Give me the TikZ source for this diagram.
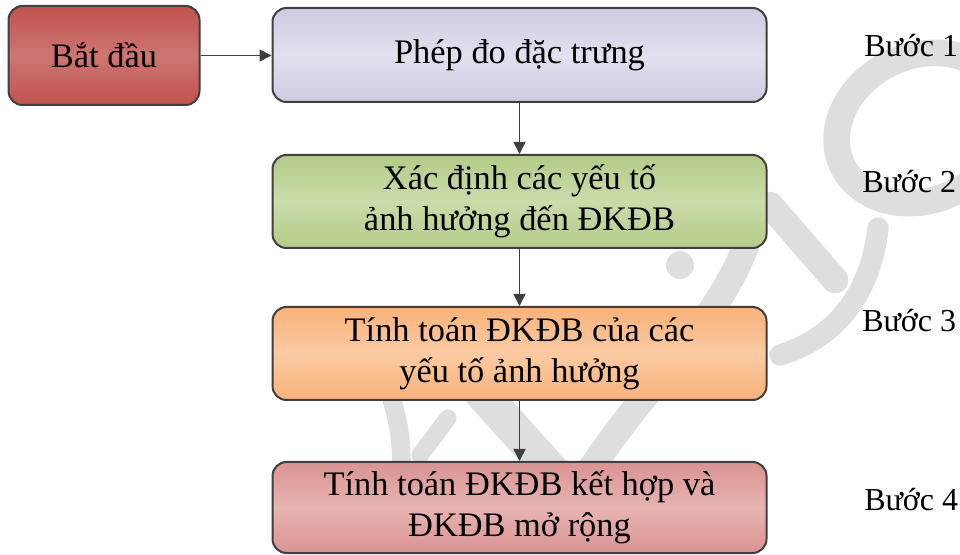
\documentclass[tikz,border=0pt]{standalone}
\usepackage{fontspec}
\setmainfont{Liberation Serif}
\usetikzlibrary{arrows.meta}
\definecolor{bordergray}{HTML}{3F3F3F}
\definecolor{arrowgray}{HTML}{404040}
\definecolor{wmgray}{HTML}{DEDEDE}
\definecolor{redA}{HTML}{C0524E}
\definecolor{redB}{HTML}{CE7673}
\definecolor{lavA}{HTML}{D0CADF}
\definecolor{lavB}{HTML}{E2DFEE}
\definecolor{grnA}{HTML}{B3CB87}
\definecolor{grnB}{HTML}{CBDCAA}
\definecolor{orgA}{HTML}{F8B27A}
\definecolor{orgB}{HTML}{FBCAA2}
\definecolor{pnkA}{HTML}{D99392}
\definecolor{pnkB}{HTML}{E7B4B2}
\tikzset{
  box/.style={draw=bordergray, line width=1.5pt, rounded corners=10.5pt, inner sep=0pt,
    align=center, font=\fontsize{25.8}{31}\selectfont, minimum width=370.5pt},
  steplab/.style={font=\fontsize{24}{28}\selectfont, inner sep=0pt, anchor=base west},
  conn/.style={draw=arrowgray, line width=1.2pt, -{Triangle[length=9pt,width=9pt]}},
  wm/.style={draw=wmgray, line cap=round}
}
\begin{document}
\begin{tikzpicture}[x=0.75pt,y=-0.75pt]
\useasboundingbox (0,0) rectangle (960,555);
% watermark
\begin{scope}
\clip (0,0) rectangle (960,555);
\draw[wm, line width=20pt, rotate around={25:(922,128)}] (922,128) ellipse [x radius=88, y radius=72];
\draw[wm, line width=20pt] (770,205) -- (835,280);
\draw[wm, line width=16pt] (878,228) .. controls (870,300) and (830,340) .. (780,355);
\draw[wm, line width=20pt] (748,240) .. controls (720,320) and (650,380) .. (590,470);
\draw[wm, line width=26pt] (470,380) -- (560,480);
\draw[wm, line width=14pt] (392,400) .. controls (400,430) .. (402,470);
\draw[wm, line width=13pt] (448,418) -- (420,455);
\fill[wmgray] (680,265) circle [radius=14];
\end{scope}
% boxes
\node[box, top color=redA, bottom color=redA, middle color=redB,
  minimum width=143.25pt, minimum height=74.25pt] (start) at (104,55.5) {Bắt đầu};
\node[box, top color=lavA, bottom color=lavA, middle color=lavB,
  minimum height=70.5pt] (s1) at (519.5,55) {Phép đo đặc trưng};
\node[box, top color=grnA, bottom color=grnA, middle color=grnB,
  minimum height=69.75pt] (s2) at (519.5,201.5) {Xác định các yếu tố\\ảnh hưởng đến ĐKĐB};
\node[box, top color=orgA, bottom color=orgA, middle color=orgB,
  minimum height=69.75pt] (s3) at (519.5,353.5) {Tính toán ĐKĐB của các\\yếu tố ảnh hưởng};
\node[box, top color=pnkA, bottom color=pnkA, middle color=pnkB,
  minimum height=68.25pt] (s4) at (519.5,507.5) {Tính toán ĐKĐB kết hợp và\\ĐKĐB mở rộng};
% connectors
\draw[conn] (start.east) -- (start.east -| s1.west);
\draw[conn] (s1.south) -- (s2.north);
\draw[conn] (s2.south) -- (s3.north);
\draw[conn] (s3.south) -- (s4.north);
% step labels
\node[steplab] (l1) at (864,57) {Bước 1};
\node[steplab] (l2) at (862,193) {Bước 2};
\node[steplab] (l3) at (862,332) {Bước 3};
\node[steplab] (l4) at (864,510) {Bước 4};
\end{tikzpicture}
\end{document}
